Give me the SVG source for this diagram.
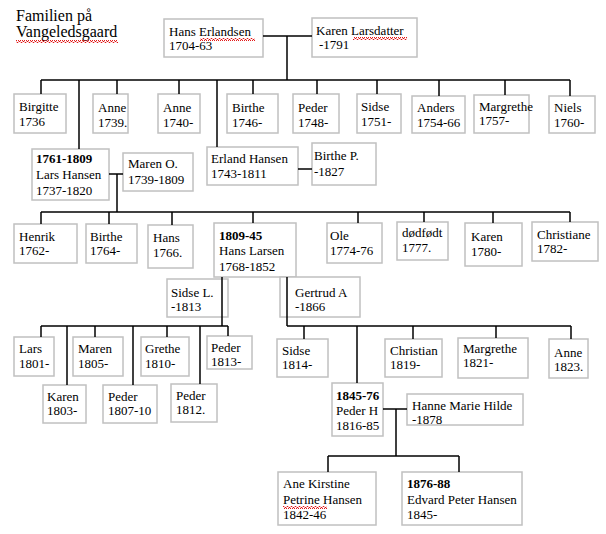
<svg xmlns="http://www.w3.org/2000/svg" width="606" height="534" viewBox="0 0 606 534">
<style>
.box{fill:#fff;stroke:#c0c0c0;stroke-width:1.5}
text{font-family:"Liberation Serif","Times New Roman",serif;font-size:13px;fill:#000}
.title{font-size:16px}
.b{font-weight:bold}
.con line{stroke:#000;stroke-width:1.5}
.sq{fill:url(#squig)}
</style>
<defs>
<pattern id="squig" x="0" y="0" width="4" height="3" patternUnits="userSpaceOnUse">
<path d="M0,2.5 L1,0.5 L2,0.5 L3,2.5 L4,2.5" fill="none" stroke="#e00000" stroke-width="0.9"/>
</pattern>
</defs>
<rect width="606" height="534" fill="#fff"/>
<g id="title">
<text class="title" x="16" y="21">Familien på</text>
<text class="title" x="16" y="37">Vangeledsgaard</text>
<rect class="sq" x="16" y="40" width="102" height="3"/>
</g>

<g id="hans_erlandsen"><rect class="box" x="164" y="19" width="99" height="38"/><text x="169" y="36">Hans Erlandsen</text><text x="169" y="50">1704-63</text><rect class="sq" x="200" y="38" width="55" height="3"/></g>
<g id="karen_larsdatter"><rect class="box" x="312" y="18" width="105" height="39"/><text x="316" y="35">Karen Larsdatter</text><text x="319" y="49">-1791</text><rect class="sq" x="353" y="37" width="54" height="3"/></g>

<g id="birgitte"><rect class="box" x="14" y="94" width="52" height="39"/><text x="19" y="111">Birgitte</text><text x="19" y="126">1736</text></g>
<g id="anne1739"><rect class="box" x="93" y="94" width="35" height="39"/><text x="98" y="112">Anne</text><text x="98" y="127">1739.</text></g>
<g id="anne1740"><rect class="box" x="158" y="94" width="42" height="39"/><text x="163" y="112">Anne</text><text x="163" y="127">1740-</text></g>
<g id="birthe1746"><rect class="box" x="227" y="94" width="51" height="39"/><text x="232" y="112">Birthe</text><text x="232" y="127">1746-</text></g>
<g id="peder1748"><rect class="box" x="293" y="94" width="46" height="39"/><text x="298" y="112">Peder</text><text x="298" y="127">1748-</text></g>
<g id="sidse1751"><rect class="box" x="357" y="94" width="44" height="39"/><text x="361" y="111">Sidse</text><text x="361" y="126">1751-</text></g>
<g id="anders1754"><rect class="box" x="412" y="96" width="53" height="37"/><text x="417" y="112">Anders</text><text x="417" y="127">1754-66</text></g>
<g id="margrethe1757"><rect class="box" x="474" y="95" width="55" height="38"/><text x="479" y="111">Margrethe</text><text x="479" y="125">1757-</text></g>
<g id="niels1760"><rect class="box" x="549" y="96" width="46" height="37"/><text x="554" y="112">Niels</text><text x="554" y="127">1760-</text></g>

<g id="lars_hansen"><rect class="box" x="32" y="149" width="77" height="51"/><text class="b" x="36" y="163">1761-1809</text><text x="36" y="179">Lars Hansen</text><text x="36" y="195">1737-1820</text></g>
<g id="maren_o"><rect class="box" x="123" y="153" width="70" height="38"/><text x="128" y="168">Maren O.</text><text x="128" y="184">1739-1809</text></g>
<g id="erland_hansen"><rect class="box" x="207" y="147" width="91" height="38"/><text x="211" y="163">Erland Hansen</text><text x="211" y="178">1743-1811</text></g>
<g id="birthe_p"><rect class="box" x="312" y="143" width="64" height="42"/><text x="314" y="160">Birthe P.</text><text x="314" y="176">-1827</text></g>

<g id="henrik1762"><rect class="box" x="14" y="224" width="63" height="39"/><text x="19" y="241">Henrik</text><text x="19" y="255">1762-</text></g>
<g id="birthe1764"><rect class="box" x="86" y="224" width="51" height="39"/><text x="90" y="241">Birthe</text><text x="90" y="255">1764-</text></g>
<g id="hans1766"><rect class="box" x="148" y="225" width="45" height="43"/><text x="153" y="242">Hans</text><text x="153" y="257">1766.</text></g>
<g id="hans_larsen"><rect class="box" x="214" y="223" width="82" height="54"/><text class="b" x="219" y="240">1809-45</text><text x="219" y="255">Hans Larsen</text><text x="219" y="271">1768-1852</text></g>
<g id="ole1774"><rect class="box" x="327" y="223" width="55" height="40"/><text x="330" y="240">Ole</text><text x="330" y="255">1774-76</text></g>
<g id="dodfodt1777"><rect class="box" x="397" y="222" width="51" height="38"/><text x="402" y="237">dødfødt</text><text x="402" y="252">1777.</text></g>
<g id="karen1780"><rect class="box" x="465" y="223" width="57" height="43"/><text x="471" y="241">Karen</text><text x="471" y="256">1780-</text></g>
<g id="christiane1782"><rect class="box" x="532" y="222" width="66" height="39"/><text x="537" y="239">Christiane</text><text x="537" y="253">1782-</text></g>

<g id="sidse_l"><rect class="box" x="167" y="279" width="61" height="38"/><text x="171" y="297">Sidse L.</text><text x="171" y="311">-1813</text></g>
<g id="gertrud_a"><rect class="box" x="280" y="277" width="80" height="40"/><text x="295" y="297">Gertrud A</text><text x="295" y="311">-1866</text></g>

<g id="lars1801"><rect class="box" x="14" y="337" width="40" height="39"/><text x="19" y="353">Lars</text><text x="19" y="368">1801-</text></g>
<g id="karen1803"><rect class="box" x="43" y="385" width="43" height="38"/><text x="47" y="401">Karen</text><text x="47" y="415">1803-</text></g>
<g id="maren1805"><rect class="box" x="73" y="337" width="50" height="39"/><text x="78" y="353">Maren</text><text x="78" y="368">1805-</text></g>
<g id="peder1807"><rect class="box" x="103" y="385" width="54" height="38"/><text x="108" y="401">Peder</text><text x="108" y="415">1807-10</text></g>
<g id="grethe1810"><rect class="box" x="141" y="337" width="48" height="39"/><text x="145" y="353">Grethe</text><text x="145" y="368">1810-</text></g>
<g id="peder1812"><rect class="box" x="171" y="384" width="46" height="38"/><text x="176" y="400">Peder</text><text x="176" y="414">1812.</text></g>
<g id="peder1813"><rect class="box" x="207" y="336" width="45" height="33"/><text x="211" y="352">Peder</text><text x="211" y="366">1813-</text></g>

<g id="sidse1814"><rect class="box" x="277" y="339" width="51" height="38"/><text x="282" y="355">Sidse</text><text x="282" y="369">1814-</text></g>
<g id="christian1819"><rect class="box" x="385" y="339" width="57" height="38"/><text x="390" y="355">Christian</text><text x="390" y="369">1819-</text></g>
<g id="margrethe1821"><rect class="box" x="458" y="338" width="70" height="40"/><text x="463" y="353">Margrethe</text><text x="463" y="367">1821-</text></g>
<g id="anne1823"><rect class="box" x="549" y="339" width="39" height="39"/><text x="554" y="357">Anne</text><text x="554" y="371">1823.</text></g>

<g id="peder_h"><rect class="box" x="332" y="383" width="51" height="53"/><text class="b" x="336" y="400">1845-76</text><text x="336" y="415">Peder H</text><text x="336" y="430">1816-85</text></g>
<g id="hanne_marie_hilde"><rect class="box" x="407" y="394" width="116" height="31"/><text x="412" y="410">Hanne Marie Hilde</text><text x="412" y="424">-1878</text></g>

<g id="ane_kirstine"><rect class="box" x="278" y="472" width="98" height="53"/><text x="283" y="488">Ane Kirstine</text><text x="283" y="504">Petrine Hansen</text><text x="283" y="519">1842-46</text><rect class="sq" x="283" y="506" width="44" height="3"/></g>
<g id="edvard_peter_hansen"><rect class="box" x="402" y="472" width="120" height="53"/><text class="b" x="407" y="488">1876-88</text><text x="407" y="504">Edvard Peter Hansen</text><text x="407" y="519">1845-</text></g>

<g id="connectors" class="con">
<line x1="263" y1="36" x2="312" y2="36"/>
<line x1="287" y1="36" x2="287" y2="80"/>
<line x1="41" y1="80" x2="570" y2="80"/>
<line x1="41" y1="80" x2="41" y2="94"/>
<line x1="117" y1="80" x2="117" y2="94"/>
<line x1="179" y1="80" x2="179" y2="94"/>
<line x1="253" y1="80" x2="253" y2="94"/>
<line x1="317" y1="80" x2="317" y2="94"/>
<line x1="377" y1="80" x2="377" y2="94"/>
<line x1="439" y1="80" x2="439" y2="96"/>
<line x1="505" y1="80" x2="505" y2="95"/>
<line x1="570" y1="80" x2="570" y2="96"/>
<line x1="79" y1="80" x2="79" y2="149"/>
<line x1="217" y1="80" x2="217" y2="147"/>

<line x1="109" y1="174" x2="123" y2="174"/>
<line x1="117" y1="174" x2="117" y2="212"/>
<line x1="298" y1="169" x2="312" y2="169"/>

<line x1="41" y1="212" x2="570" y2="212"/>
<line x1="41" y1="212" x2="41" y2="224"/>
<line x1="109" y1="212" x2="109" y2="224"/>
<line x1="172" y1="212" x2="172" y2="225"/>
<line x1="253" y1="212" x2="253" y2="223"/>
<line x1="358" y1="212" x2="358" y2="223"/>
<line x1="424" y1="212" x2="424" y2="222"/>
<line x1="493" y1="212" x2="493" y2="223"/>
<line x1="570" y1="212" x2="570" y2="222"/>

<line x1="222" y1="277" x2="222" y2="326"/>
<line x1="287" y1="277" x2="287" y2="326"/>

<line x1="41" y1="326" x2="228" y2="326"/>
<line x1="41" y1="326" x2="41" y2="337"/>
<line x1="67" y1="326" x2="67" y2="385"/>
<line x1="95" y1="326" x2="95" y2="337"/>
<line x1="133" y1="326" x2="133" y2="385"/>
<line x1="167" y1="326" x2="167" y2="337"/>
<line x1="200" y1="326" x2="200" y2="384"/>
<line x1="228" y1="326" x2="228" y2="336"/>

<line x1="287" y1="326" x2="571" y2="326"/>
<line x1="304" y1="326" x2="304" y2="339"/>
<line x1="357" y1="326" x2="357" y2="383"/>
<line x1="413" y1="326" x2="413" y2="339"/>
<line x1="496" y1="326" x2="496" y2="338"/>
<line x1="571" y1="326" x2="571" y2="339"/>

<line x1="383" y1="409" x2="407" y2="409"/>
<line x1="396" y1="409" x2="396" y2="456"/>
<line x1="328" y1="456" x2="459" y2="456"/>
<line x1="328" y1="456" x2="328" y2="472"/>
<line x1="459" y1="456" x2="459" y2="472"/>
</g>
</svg>
